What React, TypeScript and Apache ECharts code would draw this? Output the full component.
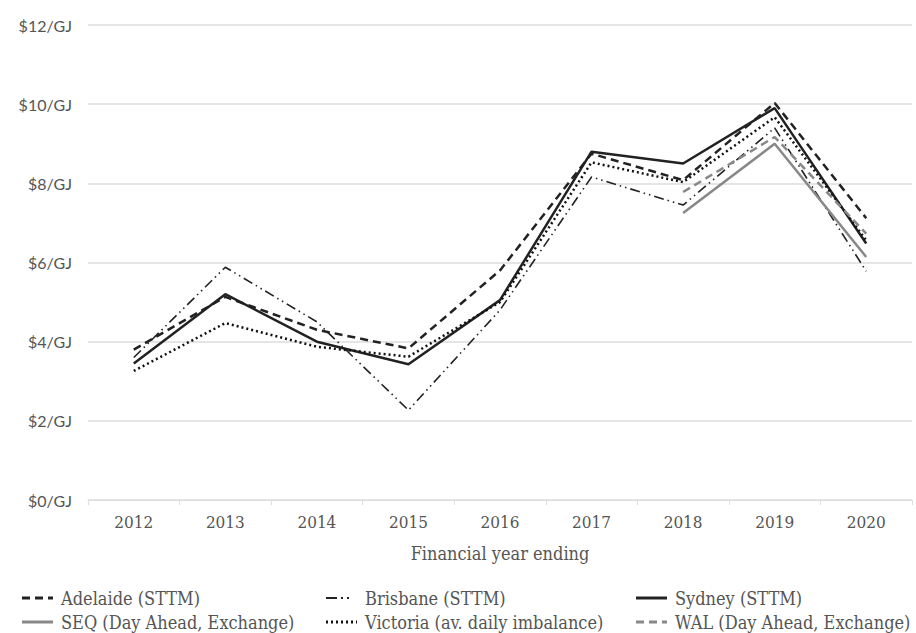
import React, { useEffect, useRef } from "react";
import * as echarts from "echarts";

const years = ["2012", "2013", "2014", "2015", "2016", "2017", "2018", "2019", "2020"];
const seriesNames = [
  "Adelaide (STTM)",
  "Brisbane (STTM)",
  "Sydney (STTM)",
  "SEQ (Day Ahead, Exchange)",
  "Victoria (av. daily imbalance)",
  "WAL (Day Ahead, Exchange)",
];
const adelaide = [3.8, 5.13, 4.3, 3.83, 5.8, 8.75, 8.08, 10.03, 7.12];
const brisbane = [3.6, 5.88, 4.5, 2.27, 4.8, 8.16, 7.45, 9.4, 5.78];
const sydney = [3.45, 5.2, 4.0, 3.43, 5.05, 8.8, 8.5, 9.9, 6.48];
const seq = [null, null, null, null, null, null, 7.25, 9.0, 6.14];
const victoria = [3.26, 4.47, 3.87, 3.62, 5.0, 8.53, 8.03, 9.67, 6.56];
const wal = [null, null, null, null, null, null, 7.78, 9.17, 6.73];
const yTicks = [0, 2, 4, 6, 8, 10, 12];

const labelFont = "'DejaVu Serif Condensed', 'DejaVu Serif', serif";
const tickFont = "Lato, 'Open Sans', sans-serif";

export default function App() {
  const ref = useRef<HTMLDivElement>(null);
  useEffect(() => {
    const chart = echarts.init(ref.current!, null, { renderer: "svg" });
    const seriesDefs = [
      { data: adelaide, color: "#222", dash: [8, 5], width: 2.5 },
      { data: brisbane, color: "#222", dash: [10, 4, 1.5, 4, 1.5, 4], width: 1.6 },
      { data: sydney, color: "#222", dash: null, width: 2.5 },
      { data: seq, color: "#888", dash: null, width: 2.5 },
      { data: victoria, color: "#111", dash: [2, 3], width: 2.5 },
      { data: wal, color: "#888", dash: [8, 5], width: 2.5 },
    ];
    const legendPos = [
      { x: 22, y: 598 },
      { x: 326, y: 598 },
      { x: 636, y: 598 },
      { x: 22, y: 622 },
      { x: 326, y: 622 },
      { x: 636, y: 622 },
    ];
    const legendGraphics: any[] = [];
    seriesDefs.forEach((s, i) => {
      const p = legendPos[i];
      legendGraphics.push({
        type: "line",
        shape: { x1: p.x, y1: p.y, x2: p.x + 31, y2: p.y },
        style: {
          stroke: s.color,
          lineWidth: i === 1 ? 2 : 3,
          lineDash: i === 1 ? [11, 4, 2, 4, 2, 8] : s.dash || undefined,
        },
        silent: true,
      });
      legendGraphics.push({
        type: "text",
        x: p.x + 39,
        y: p.y,
        style: {
          text: seriesNames[i],
          fill: "#555",
          fontSize: 18,
          fontFamily: labelFont,
          verticalAlign: "middle",
          align: "left",
        },
        silent: true,
      });
    });
    chart.setOption({
      animation: false,
      backgroundColor: "#fff",
      grid: { left: 88, right: 4, top: 25, bottom: 133, containLabel: false },
      xAxis: {
        type: "category",
        data: years,
        boundaryGap: true,
        axisLine: { show: true, lineStyle: { color: "#ddd", width: 1 } },
        axisTick: { show: true, length: 5, lineStyle: { color: "#ddd" } },
        axisLabel: { color: "#555", fontSize: 17, fontFamily: labelFont, margin: 13 },
        name: "Financial year ending",
        nameLocation: "middle",
        nameGap: 44,
        nameTextStyle: { color: "#555", fontSize: 18, fontFamily: labelFont },
      },
      yAxis: {
        type: "value",
        min: 0,
        max: 12,
        interval: 2,
        axisLine: { show: false },
        axisTick: { show: false },
        splitLine: { lineStyle: { color: "#ddd", width: 1.5 } },
        axisLabel: {
          color: "#555",
          fontSize: 16,
          fontFamily: tickFont,
          margin: 16,
          formatter: (v: number) => (yTicks.includes(v) ? `$${v}/GJ` : ""),
        },
      },
      graphic: legendGraphics,
      series: seriesDefs.map((s, i) => ({
        name: seriesNames[i],
        type: "line",
        data: s.data,
        symbol: "none",
        connectNulls: false,
        color: s.color,
        lineStyle: { color: s.color, width: s.width, type: s.dash || "solid" },
        itemStyle: { color: s.color },
      })),
    });
    return () => chart.dispose();
  }, []);
  return <div ref={ref} style={{ width: 916, height: 633, position: "absolute", left: 0, top: 0 }} />;
}
